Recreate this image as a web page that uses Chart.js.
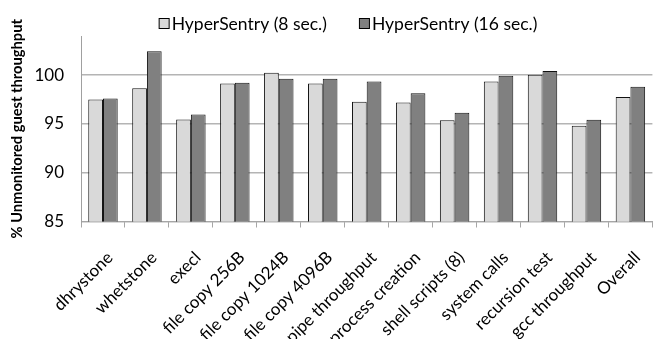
<!DOCTYPE html>
<html>
<head>
<meta charset="utf-8">
<script src="https://cdn.jsdelivr.net/npm/chart.js@4/dist/chart.umd.min.js"></script>
<style>
  html, body { margin: 0; padding: 0; background: #fff; overflow: hidden; }
  #wrap { width: 657px; height: 339px; overflow: hidden; position: relative; }
  canvas { display: block; }
</style>
</head>
<body>
<div id="wrap"><canvas id="c" width="665" height="339"></canvas></div>
<script>
const categories = ["dhrystone", "whetstone", "execl", "file copy 256B", "file copy 1024B", "file copy 4096B", "pipe throughput", "process creation", "shell scripts (8)", "system calls", "recursion test", "gcc throughput", "Overall"];
const seriesNames = ["HyperSentry (8 sec.)", "HyperSentry (16 sec.)"];
const hs8 = [97.5, 98.65, 95.45, 99.14, 100.24, 99.14, 97.27, 97.2, 95.38, 99.34, 100.03, 94.8, 97.76];
const hs16 = [97.59, 102.45, 95.97, 99.2, 99.62, 99.62, 99.34, 98.14, 96.14, 99.93, 100.41, 95.41, 98.79];
const yTicks = [85, 90, 95, 100];
const yTitle = "% Unmonitored guest throughput";

const FONT = "Lato, 'Liberation Sans', sans-serif";

const legendPlugin = {
  id: 'customLegend',
  afterDraw(chart) {
    const ctx = chart.ctx;
    const ds = chart.data.datasets;
    ctx.save();
    ctx.font = "17.5px " + FONT;
    ctx.textBaseline = 'middle';
    ctx.textAlign = 'left';
    const box = 10, gapBox = 3, gapItem = 32;
    const widths = ds.map(d => box + gapBox + ctx.measureText(d.label).width);
    const total = widths.reduce((a, b) => a + b, 0) + gapItem * (ds.length - 1);
    const center = 348;
    let x = center - total / 2;
    const cy = 23;
    ds.forEach((d, i) => {
      ctx.fillStyle = d.backgroundColor;
      ctx.fillRect(x + 0.5, cy - 5 + 0.5, box, box);
      ctx.strokeStyle = '#000';
      ctx.lineWidth = 1;
      ctx.strokeRect(x + 0.5, cy - 5 + 0.5, box, box);
      ctx.fillStyle = '#000';
      ctx.fillText(d.label, x + box + gapBox, cy + 1);
      x += widths[i] + gapItem;
    });
    ctx.restore();
  }
};

new Chart(document.getElementById('c'), {
  type: 'bar',
  data: {
    labels: categories,
    datasets: [
      { label: seriesNames[0], data: hs8, backgroundColor: '#d9d9d9', borderColor: '#111', borderWidth: 1 },
      { label: seriesNames[1], data: hs16, backgroundColor: '#808080', borderColor: '#111', borderWidth: 1 }
    ]
  },
  options: {
    responsive: false,
    animation: false,
    devicePixelRatio: 1,
    layout: { padding: { top: 36, right: 4, left: 0, bottom: 0 } },
    datasets: { bar: { categoryPercentage: 0.67, barPercentage: 1.0 } },
    plugins: {
      legend: { display: false },
      tooltip: { enabled: false }
    },
    scales: {
      x: {
        offset: true,
        grid: { display: true, drawOnChartArea: false, drawTicks: true, tickLength: 6, offset: true, color: '#a6a6a6' },
        border: { display: true, color: '#a6a6a6', width: 1 },
        ticks: { minRotation: 45, maxRotation: 45, autoSkip: false, padding: 20, labelOffset: 7, color: '#000', font: { family: FONT, size: 17 } },
        afterFit(scale) { scale.height = 339 - 221.5; }
      },
      y: {
        min: 85,
        max: 104,
        afterBuildTicks(scale) { scale.ticks = yTicks.map(v => ({ value: v })); },
        grid: { display: true, drawTicks: false, color: '#b4b4b4', lineWidth: 1.5 },
        border: { display: true, color: '#a0a0a0', width: 1 },
        ticks: { padding: 17, color: '#000', font: { family: FONT, size: 17 } },
        title: { display: true, text: yTitle, color: '#000', font: { family: FONT, size: 14.7, weight: 'bold' }, padding: { top: 8, bottom: 0 } },
        afterFit(scale) { scale.width = 81; }
      }
    }
  },
  plugins: [legendPlugin]
});
</script>
</body>
</html>
